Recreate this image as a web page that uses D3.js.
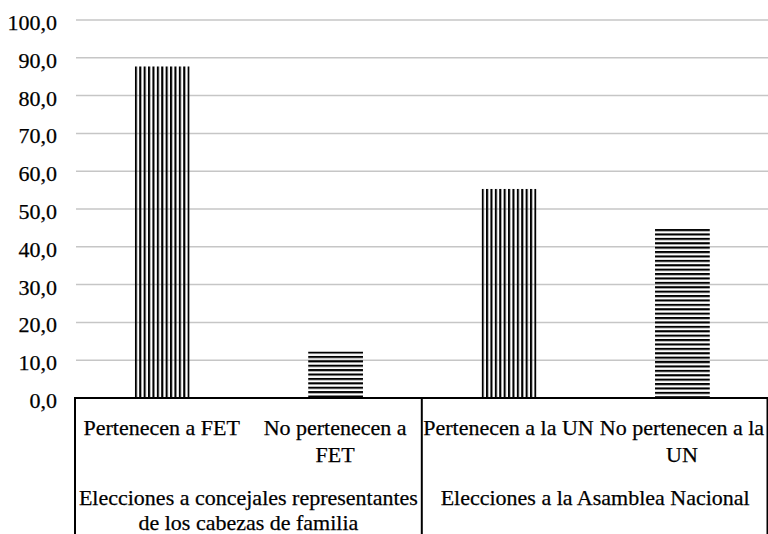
<!DOCTYPE html>
<html><head><meta charset="utf-8">
<script src="https://cdn.jsdelivr.net/npm/d3@7"></script>
<style>body{margin:0;background:#fff}svg{display:block}svg text{font-family:"Liberation Serif","Times New Roman","DejaVu Serif",serif;font-size:22px;fill:#000;stroke:#000;stroke-width:0.25px}</style>
</head><body><svg id="c" width="768" height="534"></svg>
<script>
const categories = ["Pertenecen a FET", "No pertenecen a FET", "Pertenecen a la UN", "No pertenecen a la UN"];
const categoryLines = [["Pertenecen a FET"], ["No pertenecen a", "FET"], ["Pertenecen a la UN"], ["No pertenecen a la", "UN"]];
const values = [87.7, 12.3, 55.3, 44.7];
const patterns = ["vertical", "horizontal", "vertical", "horizontal"];
const groups = ["Elecciones a concejales representantes de los cabezas de familia", "Elecciones a la Asamblea Nacional"];
const groupLines = [["Elecciones a concejales representantes", "de los cabezas de familia"], ["Elecciones a la Asamblea Nacional"]];
const groupSpan = [2, 2];
const ticks = [0, 10, 20, 30, 40, 50, 60, 70, 80, 90, 100];
const tickLabels = ["0,0", "10,0", "20,0", "30,0", "40,0", "50,0", "60,0", "70,0", "80,0", "90,0", "100,0"];

const svg = d3.select("#c");
const x0 = 75, x1 = 768.6;
const x = d3.scaleBand().domain(categories).range([x0, x1]).paddingInner(0.69).paddingOuter(0.345);
const y = d3.scaleLinear().domain([0, 100]).range([398, 20]);
const FONT = "'Liberation Serif','Times New Roman','DejaVu Serif',serif";

// gridlines
svg.append("g").selectAll("line").data(ticks.slice(1)).join("line")
  .attr("x1", 76).attr("x2", 768).attr("y1", d => y(d)).attr("y2", d => y(d))
  .attr("stroke", "#c6c6c6").attr("stroke-width", 1.5);

// tick labels
svg.append("g").selectAll("text").data(ticks).join("text")
  .attr("font-family", FONT)
  .attr("x", 57).attr("y", d => y(d) + 10).attr("text-anchor", "end")
  .text((d, i) => tickLabels[i]);

// patterns
const defs = svg.append("defs");
const period = 4.4;
values.forEach((v, i) => {
  const bx = x(categories[i]), by = y(v);
  const p = defs.append("pattern").attr("id", "p" + i).attr("patternUnits", "userSpaceOnUse")
    .attr("width", period).attr("height", period)
    .attr("patternTransform", `translate(${bx},${by})`);
  if (patterns[i] === "vertical") {
    p.append("rect").attr("x", 0).attr("y", 0).attr("width", 2.1).attr("height", period).attr("fill", "#000");
  } else {
    p.append("rect").attr("x", 0).attr("y", 0).attr("width", period).attr("height", 2.1).attr("fill", "#000");
  }
});

// bars
svg.append("g").selectAll("rect").data(values).join("rect")
  .attr("x", (d, i) => x(categories[i]))
  .attr("y", d => y(d))
  .attr("width", x.bandwidth() + 1)
  .attr("height", d => y(0) - y(d))
  .attr("fill", (d, i) => `url(#p${i})`);

// axis line & box
const base = y(0);
svg.append("line").attr("x1", x0 - 1).attr("x2", 768).attr("y1", base).attr("y2", base)
  .attr("stroke", "#000").attr("stroke-width", 2);
let acc = 0;
const bounds = [x0];
groupSpan.forEach(s => { acc += s; bounds.push(acc < categories.length ? x0 + (x1 - x0) * acc / categories.length : 767.5); });
svg.append("g").selectAll("line").data(bounds).join("line")
  .attr("x1", d => d).attr("x2", d => d).attr("y1", base).attr("y2", 534)
  .attr("stroke", "#000").attr("stroke-width", 2);

// category labels
const step = (x1 - x0) / categories.length;
categoryLines.forEach((lines, i) => {
  const cx = x0 + step * (i + 0.5);
  const t = svg.append("text").attr("text-anchor", "middle").attr("font-family", FONT);
  lines.forEach((l, j) => t.append("tspan").attr("x", cx).attr("y", 435 + j * 27).text(l));
});

// group labels
let start = 0;
groupLines.forEach((lines, g) => {
  const cx = x0 + step * (start + groupSpan[g] / 2);
  start += groupSpan[g];
  const t = svg.append("text").attr("text-anchor", "middle").attr("font-family", FONT);
  lines.forEach((l, j) => t.append("tspan").attr("x", cx).attr("y", 505 + j * 25).text(l));
});
</script></body></html>
